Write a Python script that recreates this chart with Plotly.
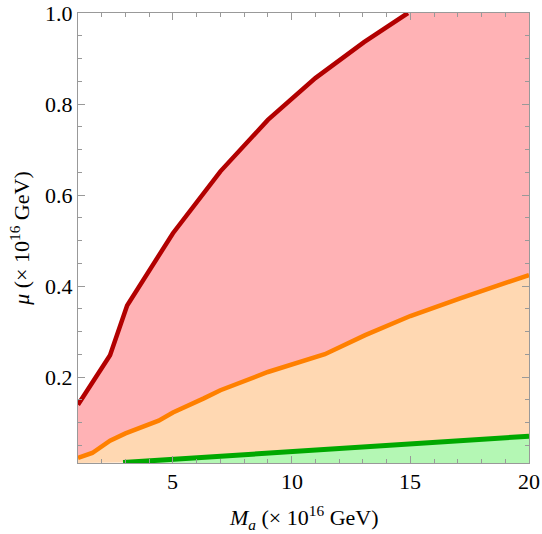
import plotly.graph_objects as go

# Data
red_x = [1.0, 2.35, 3.07, 5.0, 7.0, 9.0, 11.0, 13.05, 14.9]
red_y = [0.139, 0.248, 0.357, 0.516, 0.652, 0.765, 0.857, 0.936, 1.0]

orange_x = [1.0, 1.6, 2.35, 3.0, 4.4, 5.0, 6.3, 7.0, 9.0, 11.4, 13.1, 15.0, 17.1, 20.0]
orange_y = [0.022, 0.033, 0.060, 0.076, 0.104, 0.122, 0.153, 0.171, 0.211, 0.250, 0.292, 0.334, 0.373, 0.424]

green_x = [2.9, 5.0, 10.0, 15.0, 20.0]
green_y = [0.012, 0.019, 0.035, 0.053, 0.070]

x_range = [1, 20]
y_range = [0.011, 1.0]
x_ticks = [5, 10, 15, 20]
x_tick_text = ["5", "10", "15", "20"]
y_ticks = [0.2, 0.4, 0.6, 0.8, 1.0]
y_tick_text = ["0.2", "0.4", "0.6", "0.8", "1.0"]
x_title = "<i>M</i><sub><i>a</i></sub> (× 10<sup>16</sup> GeV)"
y_title = "<i>μ</i> (× 10<sup>16</sup> GeV)"

RED_FILL = "rgb(255,178,181)"
ORANGE_FILL = "rgb(255,216,178)"
GREEN_FILL = "rgb(180,247,180)"
RED_LINE = "rgb(178,0,0)"
ORANGE_LINE = "rgb(255,128,0)"
GREEN_LINE = "rgb(0,168,0)"

fig = go.Figure()

rx = red_x + [x_range[1], x_range[1]] + orange_x[::-1]
ry = red_y + [y_range[1], orange_y[-1]] + orange_y[::-1]
fig.add_trace(go.Scatter(x=rx, y=ry, fill="toself", fillcolor=RED_FILL,
                         mode="none", hoverinfo="skip", showlegend=False))

ox = orange_x + green_x[::-1] + [x_range[0]]
oy = orange_y + green_y[::-1] + [y_range[0]]
fig.add_trace(go.Scatter(x=ox, y=oy, fill="toself", fillcolor=ORANGE_FILL,
                         mode="none", hoverinfo="skip", showlegend=False))

gx = green_x + [x_range[1], green_x[0]]
gy = green_y + [y_range[0], y_range[0]]
fig.add_trace(go.Scatter(x=gx, y=gy, fill="toself", fillcolor=GREEN_FILL,
                         mode="none", hoverinfo="skip", showlegend=False))

fig.add_trace(go.Scatter(x=red_x, y=red_y, mode="lines",
                         line=dict(color=RED_LINE, width=4.5), showlegend=False))
fig.add_trace(go.Scatter(x=orange_x, y=orange_y, mode="lines",
                         line=dict(color=ORANGE_LINE, width=4.5), showlegend=False))
fig.add_trace(go.Scatter(x=green_x, y=green_y, mode="lines",
                         line=dict(color=GREEN_LINE, width=5), showlegend=False))

FONT = "Liberation Serif"
TXT = dict(family=FONT, size=22, color="black")

fig.update_xaxes(
    range=x_range, tickvals=x_ticks, showticklabels=False,
    showgrid=False, zeroline=False, showline=True, linecolor="#999999",
    linewidth=1, mirror="ticks", ticks="inside", ticklen=7, tickcolor="#999999",
    automargin=False,
    minor=dict(dtick=1, ticks="inside", ticklen=4, tickcolor="#999999", showgrid=False),
)
fig.update_yaxes(
    range=y_range, tickvals=y_ticks, showticklabels=False,
    showgrid=False, zeroline=False, showline=True, linecolor="#999999",
    linewidth=1, mirror="ticks", ticks="inside", ticklen=7, tickcolor="#999999",
    automargin=False,
    minor=dict(dtick=0.05, tick0=0, ticks="inside", ticklen=4, tickcolor="#999999", showgrid=False),
)

annotations = []
for v, t in zip(x_ticks, x_tick_text):
    annotations.append(dict(x=v, xref="x", y=0, yref="paper", text=t,
                            showarrow=False, xanchor="center", yanchor="top",
                            yshift=-4, font=TXT))
for v, t in zip(y_ticks, y_tick_text):
    annotations.append(dict(x=0, xref="paper", y=v, yref="y", text=t,
                            showarrow=False, xanchor="right", yanchor="middle",
                            xshift=-3, font=TXT))
annotations.append(dict(x=0.5, xref="paper", y=-0.12, yref="paper", text=x_title,
                        showarrow=False, xanchor="center", yanchor="middle", font=TXT))
annotations.append(dict(x=-0.129, xref="paper", y=0.5, yref="paper", text=y_title,
                        showarrow=False, xanchor="center", yanchor="middle",
                        textangle=-90, font=TXT))

fig.update_layout(
    width=542, height=534,
    margin=dict(l=78, r=13, t=13, b=71),
    plot_bgcolor="white", paper_bgcolor="white",
    font=TXT,
    annotations=annotations,
)

fig.write_html("out.html")
